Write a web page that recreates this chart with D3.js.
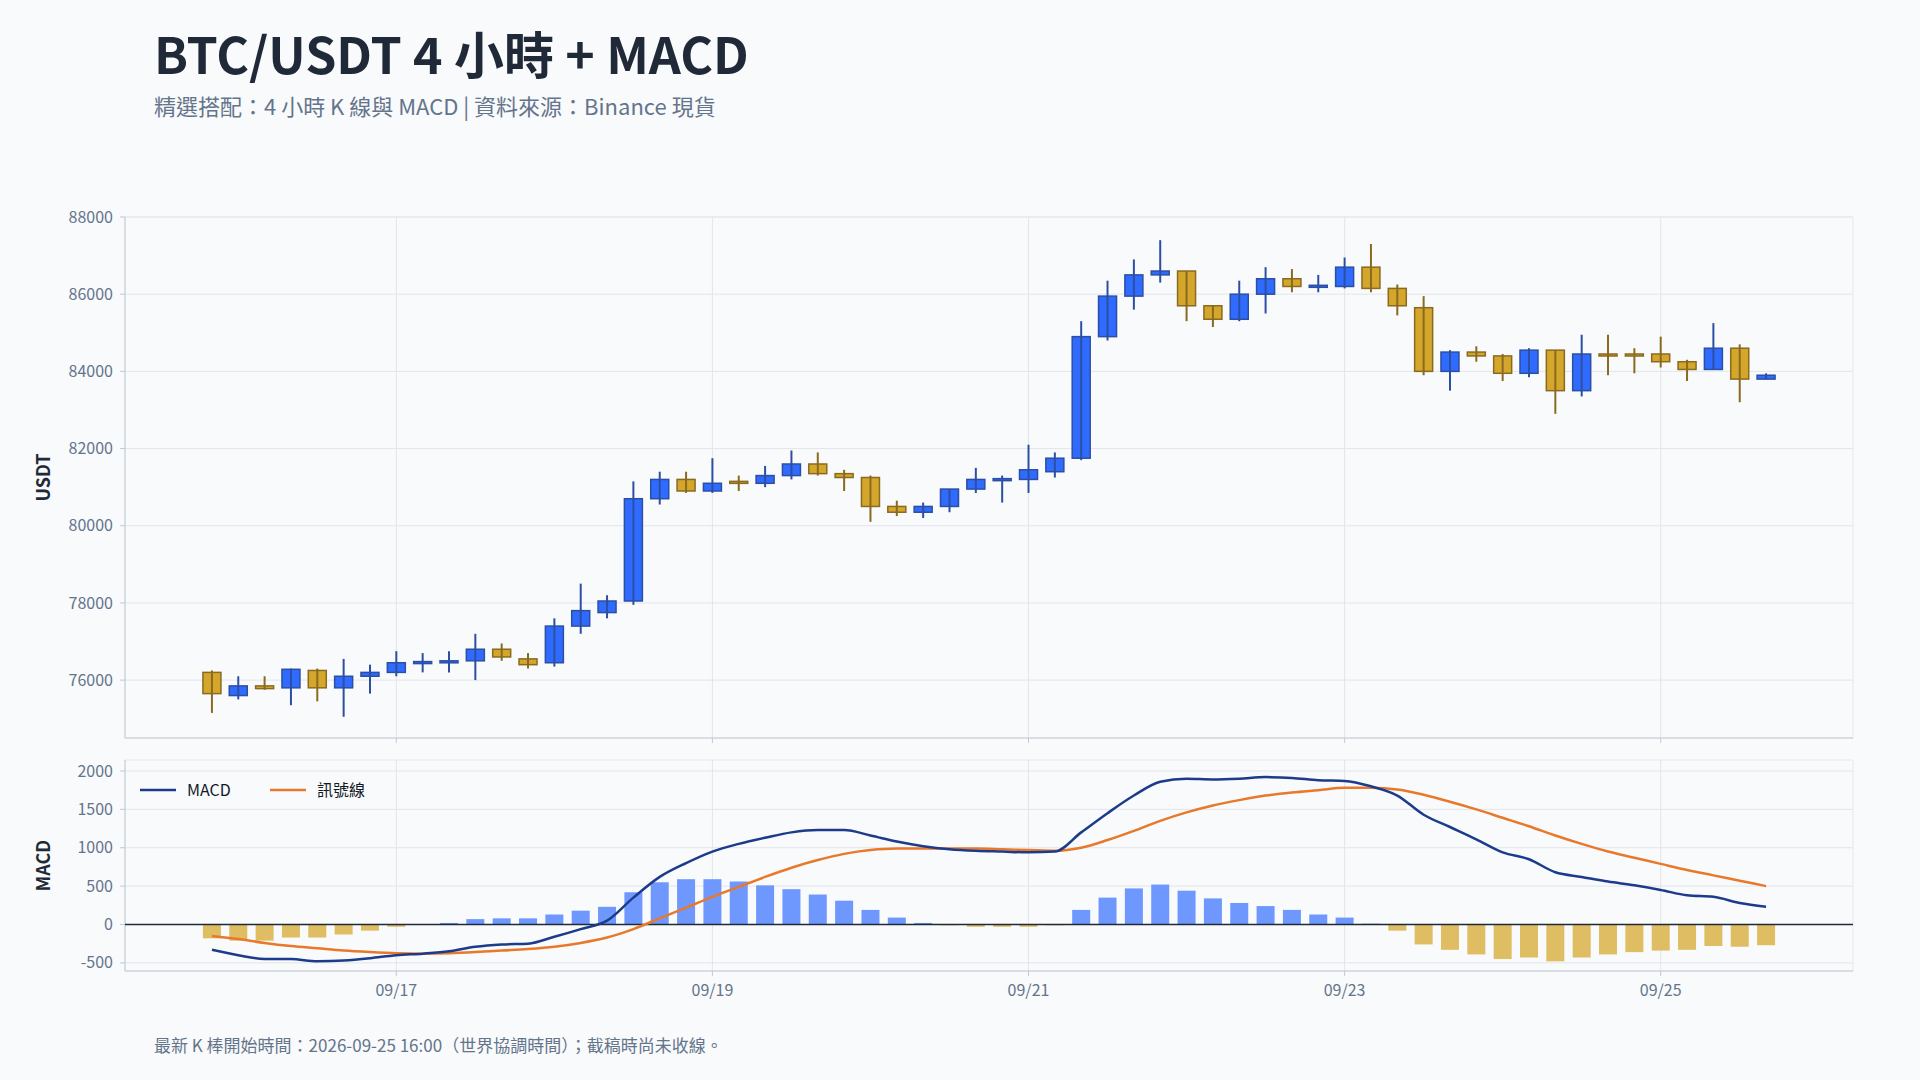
<!DOCTYPE html>
<html><head><meta charset="utf-8">
<script src="https://cdn.jsdelivr.net/npm/d3@7"></script>
<style>
body{margin:0;background:#f8fafc;font-family:"Noto Sans CJK TC","Noto Sans",sans-serif;}
</style></head>
<body><svg id="chart" width="1920" height="1080"></svg>
<script>
// 4h candles, first at 2026-09-15 20:00 UTC
const opens  = [76200,75600,75850,75800,76250,75800,76100,76200,76450,76470,76500,76800,76550,76450,77400,77750,78050,80700,81200,80900,81150,81100,81300,81600,81350,81250,80500,80350,80500,80950,81200,81200,81400,81750,84900,85950,86500,86600,85700,85350,86000,86400,86200,86200,86700,86150,85650,84000,84500,84400,83950,84550,83500,84450,84450,84450,84250,84050,84600,83800];
const closes = [75650,75850,75780,76280,75800,76100,76200,76450,76480,76500,76800,76600,76400,77400,77800,78050,80700,81200,80900,81100,81100,81300,81600,81350,81250,80500,80350,80500,80950,81200,81220,81450,81750,84900,85950,86500,86600,85700,85350,86000,86400,86200,86230,86700,86150,85700,84000,84500,84400,83950,84550,83500,84450,84400,84420,84250,84050,84600,83800,83900];
const highs  = [76250,76100,76100,76300,76300,76550,76400,76750,76700,76750,77200,76950,76700,77600,78500,78200,81150,81400,81400,81750,81300,81550,81950,81900,81450,81300,80650,80600,80950,81500,81300,82100,81900,85300,86350,86900,87400,86600,85700,86350,86700,86650,86500,86950,87300,86250,85950,84550,84650,84450,84600,84550,84950,84950,84600,84900,84300,85250,84700,83950];
const lows   = [75150,75500,75750,75350,75450,75050,75650,76100,76200,76200,76000,76500,76300,76350,77200,77600,77950,80550,80850,80850,80900,81000,81200,81300,80900,80100,80250,80200,80350,80850,80600,80850,81250,81700,84800,85600,86300,85300,85150,85300,85500,86050,86050,86150,86050,85450,83900,83500,84250,83750,83850,82900,83350,83900,83950,84100,83750,84050,83200,83800];
const macdLine = [-330,-400,-450,-450,-480,-470,-440,-400,-380,-350,-290,-260,-250,-160,-60,50,350,620,800,950,1050,1130,1200,1230,1230,1160,1080,1020,980,960,950,940,950,1200,1450,1680,1860,1900,1890,1900,1920,1910,1880,1870,1800,1680,1430,1270,1110,940,850,680,620,560,510,450,380,360,280,230];
const signalLine = [-150,-190,-240,-280,-310,-340,-360,-375,-380,-375,-360,-340,-320,-290,-240,-170,-60,80,220,360,490,620,740,840,920,970,990,990,990,990,980,970,960,1000,1100,1220,1350,1460,1550,1620,1680,1720,1750,1780,1780,1760,1690,1600,1500,1390,1280,1160,1050,950,870,790,710,640,570,500];
const histBars = [-180,-210,-210,-170,-170,-130,-80,-30,0,20,70,80,80,130,180,230,420,550,590,590,560,510,460,390,310,190,90,20,-10,-30,-30,-30,-10,190,350,470,520,440,340,280,240,190,130,90,10,-80,-260,-330,-390,-450,-430,-480,-430,-390,-360,-340,-330,-280,-290,-270];
const priceTicks = [76000,78000,80000,82000,84000,86000,88000];
const macdTicks = [-500,0,500,1000,1500,2000];
const dateTicks = ["2026-09-17","2026-09-19","2026-09-21","2026-09-23","2026-09-25"];

const start = Date.UTC(2026, 8, 15, 20);
const times = opens.map((d, i) => new Date(start + i * 4 * 3600e3));
const candles = opens.map((o, i) => ({t: times[i], o, c: closes[i], h: highs[i], l: lows[i]}));

const svg = d3.select("#chart");
const L = 125, R = 1853;
const x = d3.scaleUtc()
  .domain([new Date(Date.UTC(2026, 8, 15, 6, 48)), new Date(Date.UTC(2026, 8, 26, 5, 12))])
  .range([L, R]);
const yP = d3.scaleLinear().domain([74500, 88000]).range([738, 217]);
const yM = d3.scaleLinear().domain([-606, 2143]).range([971, 760]);

const txt = "#64748b", grid = "#e2e5ea", axisC = "#c3c8d2";
const up = "#2f6bff", upS = "#2d4fa3", dn = "#d4a72c", dnS = "#8a6a1f";

// titles
svg.append("text").attr("x", 154).attr("y", 74).attr("font-size", 50).attr("font-weight", 700)
  .attr("fill", "#1f2937").text("BTC/USDT 4 小時 + MACD");
svg.append("text").attr("x", 154).attr("y", 115).attr("font-size", 22).attr("fill", txt)
  .text("精選搭配：4 小時 K 線與 MACD | 資料來源：Binance 現貨");
svg.append("text").attr("x", 154).attr("y", 1052).attr("font-size", 17).attr("fill", txt)
  .text("最新 K 棒開始時間：2026-09-25 16:00（世界協調時間）；截稿時尚未收線。");

function panel(y, ticks, top, bottom, title) {
  const g = svg.append("g");
  g.selectAll(".hg").data(ticks).join("line")
    .attr("x1", L).attr("x2", R).attr("y1", d => y(d)).attr("y2", d => y(d))
    .attr("stroke", grid);
  g.selectAll(".vg").data(dateTicks).join("line")
    .attr("x1", d => x(new Date(d))).attr("x2", d => x(new Date(d)))
    .attr("y1", top).attr("y2", bottom).attr("stroke", grid);
  g.append("rect").attr("x", L).attr("y", top).attr("width", R - L).attr("height", bottom - top)
    .attr("fill", "none").attr("stroke", "#e6e9ee");
  g.append("line").attr("x1", L).attr("x2", L).attr("y1", top).attr("y2", bottom).attr("stroke", axisC);
  g.append("line").attr("x1", L).attr("x2", R).attr("y1", bottom).attr("y2", bottom).attr("stroke", axisC);
  g.selectAll(".tl").data(ticks).join("text")
    .attr("x", L - 12).attr("y", d => y(d)).attr("dy", "0.35em").attr("text-anchor", "end")
    .attr("font-size", 16).attr("fill", txt).text(d => d);
  g.selectAll(".tk").data(ticks).join("line")
    .attr("x1", L - 5).attr("x2", L).attr("y1", d => y(d)).attr("y2", d => y(d)).attr("stroke", axisC);
  g.selectAll(".xt").data(dateTicks).join("line")
    .attr("x1", d => x(new Date(d))).attr("x2", d => x(new Date(d)))
    .attr("y1", bottom).attr("y2", bottom + 5).attr("stroke", axisC);
  g.append("text").attr("transform", `translate(50,${(top + bottom) / 2}) rotate(-90)`)
    .attr("text-anchor", "middle").attr("font-size", 18).attr("font-weight", 700)
    .attr("fill", "#1f2937").text(title);
}
panel(yP, priceTicks, 217, 738, "USDT");
panel(yM, macdTicks, 760, 971, "MACD");

// x labels
svg.selectAll(".xl").data(dateTicks).join("text")
  .attr("x", d => x(new Date(d))).attr("y", 996).attr("text-anchor", "middle")
  .attr("font-size", 16).attr("fill", txt).text(d => d3.utcFormat("%m/%d")(new Date(d)));

// candles
const bw = 18;
const cg = svg.append("g").selectAll("g").data(candles).join("g");
cg.append("line").attr("x1", d => x(d.t)).attr("x2", d => x(d.t))
  .attr("y1", d => yP(d.h)).attr("y2", d => yP(d.l))
  .attr("stroke", d => d.c >= d.o ? upS : dnS).attr("stroke-width", 2);
cg.append("rect").attr("x", d => x(d.t) - bw / 2).attr("width", bw)
  .attr("y", d => yP(Math.max(d.o, d.c)))
  .attr("height", d => Math.max(2, yP(Math.min(d.o, d.c)) - yP(Math.max(d.o, d.c))))
  .attr("fill", d => d.c >= d.o ? up : dn)
  .attr("stroke", d => d.c >= d.o ? upS : dnS).attr("stroke-width", 1.5);
cg.append("line").attr("x1", d => x(d.t)).attr("x2", d => x(d.t))
  .attr("y1", d => yP(Math.max(d.o, d.c))).attr("y2", d => yP(Math.min(d.o, d.c)))
  .attr("stroke", d => d.c >= d.o ? upS : dnS).attr("stroke-width", 2);

// histogram
svg.append("g").selectAll("rect").data(histBars).join("rect")
  .attr("x", (d, i) => x(times[i]) - bw / 2).attr("width", bw)
  .attr("y", d => yM(Math.max(0, d))).attr("height", d => Math.abs(yM(d) - yM(0)))
  .attr("fill", d => d >= 0 ? "#6f98ff" : "#dfbd62");
svg.append("line").attr("x1", L).attr("x2", R).attr("y1", yM(0)).attr("y2", yM(0))
  .attr("stroke", "#1f2937").attr("stroke-width", 1.5);

const line = d3.line().x((d, i) => x(times[i])).y(d => yM(d)).curve(d3.curveMonotoneX);
svg.append("path").datum(signalLine).attr("d", line).attr("fill", "none")
  .attr("stroke", "#e8792b").attr("stroke-width", 2.5);
svg.append("path").datum(macdLine).attr("d", line).attr("fill", "none")
  .attr("stroke", "#1c3b8a").attr("stroke-width", 2.5);

// legend
const lg = [["MACD", "#1c3b8a", 140], ["訊號線", "#e8792b", 270]];
lg.forEach(([name, c, lx]) => {
  svg.append("line").attr("x1", lx).attr("x2", lx + 36).attr("y1", 790).attr("y2", 790)
    .attr("stroke", c).attr("stroke-width", 2.5);
  svg.append("text").attr("x", lx + 47).attr("y", 790).attr("dy", "0.35em")
    .attr("font-size", 16).attr("fill", "#111827").text(name);
});
</script></body></html>
